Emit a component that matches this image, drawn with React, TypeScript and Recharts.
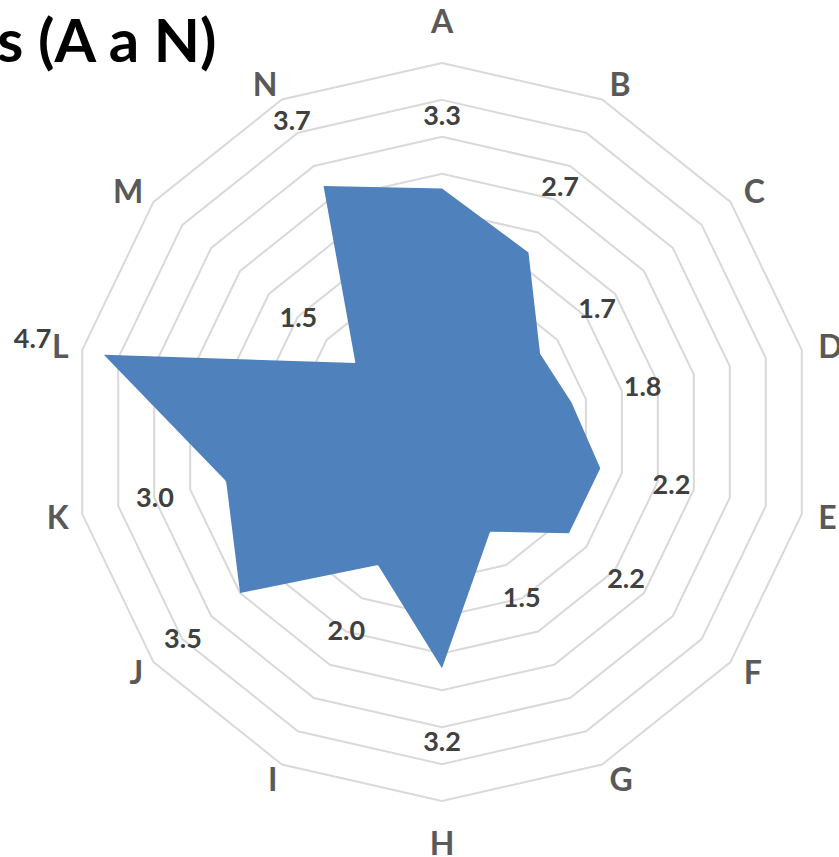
import React from "react";
import { RadarChart, Radar, PolarGrid, PolarAngleAxis, PolarRadiusAxis } from "recharts";

const categories = ["A", "B", "C", "D", "E", "F", "G", "H", "I", "J", "K", "L", "M", "N"];
const scores = [3.3, 2.7, 1.7, 1.8, 2.2, 2.2, 1.5, 3.2, 2.0, 3.5, 3.0, 4.7, 1.5, 3.7];
const radiusTicks = [0, 0.5, 1, 1.5, 2, 2.5, 3, 3.5, 4, 4.5, 5];

const data = categories.map((c, i) => ({ cat: c, score: scores[i] }));

const W = 839;
const H = 857;
const CX = 442;
const CY = 432;
const R = 369;
const RAD = Math.PI / 180;
const FONT = "Lato, 'Open Sans', sans-serif";

// category names sit just outside the outer ring, anchored on the side facing the chart
function CategoryTick(props: any) {
    const { payload } = props;
    const a = payload.coordinate * RAD;
    const cos = Math.cos(a);
    const sin = Math.sin(a);
    const r0 = 386;
    const fs = 32;
    let x = CX + r0 * cos;
    let cyText = CY - r0 * sin;
    let anchor: "start" | "end" | "middle" = "middle";
    if (cos > 1e-3) anchor = "start";
    else if (cos < -1e-3) {
        anchor = "end";
        x += 3;
    } else cyText -= sin * 25;
    return (
        <text x={x} y={cyText + fs * 0.36} textAnchor={anchor}
              fontFamily={FONT} fontSize={fs} fontWeight={700} fill="#595959">
            {payload.value}
        </text>
    );
}

function ValueLabel(props: any) {
    const px = props.x ?? props.cx;
    const py = props.y ?? props.cy;
    const v = props.value ?? props.payload?.value;
    const ddx = px - CX;
    const ddy = py - CY;
    const len = Math.sqrt(ddx * ddx + ddy * ddy) || 1;
    const off = 73;
    const fs = 27;
    const x = px + (ddx / len) * off;
    const y = py + (ddy / len) * off;
    const num = Array.isArray(v) ? v[1] : v;
    return (
        <text key={`lbl-${props.index}`} x={x} y={y + fs * 0.36} textAnchor="middle"
              fontFamily={FONT} fontSize={fs} fontWeight={700} fill="#404040">
            {Number(num).toFixed(1)}
        </text>
    );
}

export default function App() {
    return (
        <div style={{ position: "absolute", left: 0, top: 0, width: W, height: H, background: "#fff" }}>
            <RadarChart width={W} height={H} data={data} cx={CX} cy={CY} outerRadius={R}
                        margin={{ top: 0, right: 0, bottom: 0, left: 0 }}>
                <PolarGrid gridType="polygon" radialLines={false} stroke="#d9d9d9" strokeWidth={2} />
                <PolarAngleAxis dataKey="cat" tick={CategoryTick} axisLine={false} tickLine={false} />
                <PolarRadiusAxis type="number" domain={[0, 5]} ticks={radiusTicks} tickCount={11}
                                 tick={false} axisLine={false} />
                <Radar dataKey="score" fill="#4f81bd" fillOpacity={1} stroke="none"
                       dot={ValueLabel} isAnimationActive={false} />
            </RadarChart>
            <svg width={W} height={120} style={{ position: "absolute", left: 0, top: 0 }}>
                <text x={-3} y={62} fontFamily={FONT} fontSize={60} fontWeight={700} fill="#000">
                    s (A a N)
                </text>
            </svg>
        </div>
    );
}
